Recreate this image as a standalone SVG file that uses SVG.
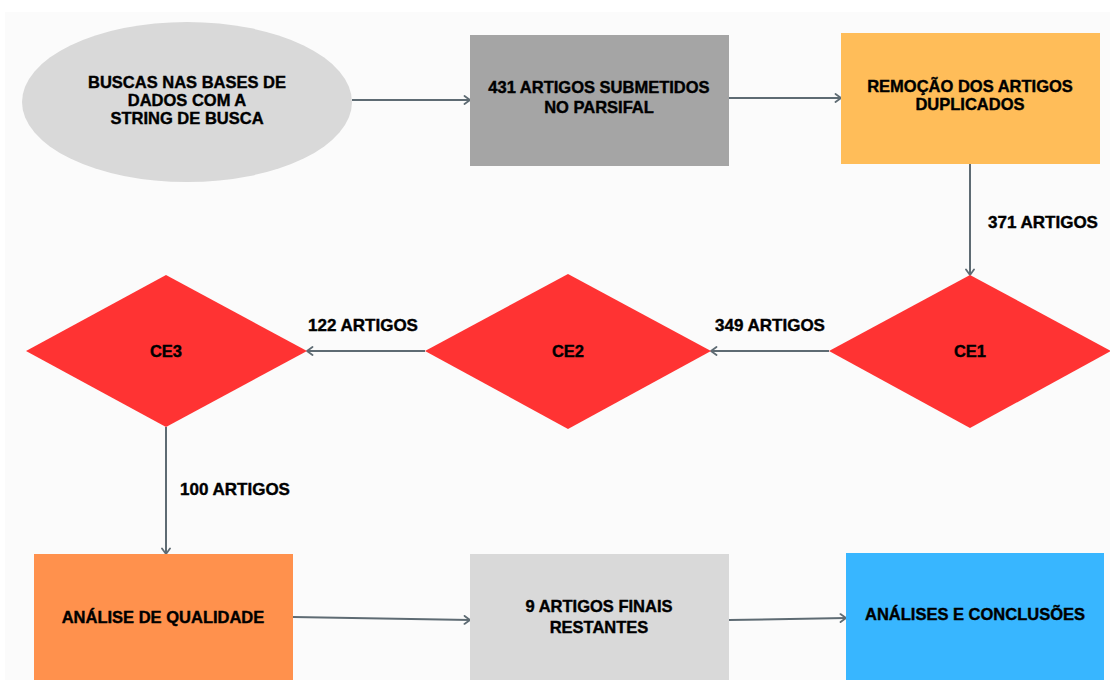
<svg xmlns="http://www.w3.org/2000/svg" width="1110" height="680" viewBox="0 0 1110 680">
<defs>
<marker id="arr" viewBox="0 0 10 10" refX="8.5" refY="5" markerWidth="10" markerHeight="10" markerUnits="userSpaceOnUse" orient="auto">
<path d="M3,1 L8.5,5 L3,9" fill="none" stroke="#5e6b73" stroke-width="1.8" stroke-linecap="round" stroke-linejoin="round"/>
</marker>
</defs>
<style>
.t{font-family:"Liberation Sans",Arial,sans-serif;font-weight:bold;font-size:16.5px;fill:#000;stroke:#000;stroke-width:0.4;text-anchor:middle}
.l{font-family:"Liberation Sans",Arial,sans-serif;font-weight:bold;font-size:17px;fill:#000;stroke:#000;stroke-width:0.4;text-anchor:middle}
.c{fill:none;stroke:#5e6b73;stroke-width:2;marker-end:url(#arr)}
.dia{fill:#ff3333}
</style>
<rect x="0" y="0" width="1110" height="680" fill="#ffffff"/>
<rect x="5" y="12" width="1105" height="668" fill="#fbfbfb"/>
<g id="connectors">
<line class="c" x1="352" y1="100" x2="470" y2="100"/>
<line class="c" x1="729" y1="98" x2="841" y2="98"/>
<line class="c" x1="970" y1="164" x2="970" y2="275"/>
<line class="c" x1="829" y1="351" x2="711" y2="351"/>
<line class="c" x1="425" y1="351" x2="307" y2="351"/>
<line class="c" x1="166" y1="427" x2="166" y2="554"/>
<line class="c" x1="293" y1="617" x2="470" y2="620"/>
<line class="c" x1="729" y1="620" x2="846" y2="618"/>
<text class="l" x="1043" y="228">371 ARTIGOS</text>
<text class="l" x="770" y="331">349 ARTIGOS</text>
<text class="l" x="363" y="331">122 ARTIGOS</text>
<text class="l" x="235" y="495">100 ARTIGOS</text>
</g>
<g id="n1">
<ellipse cx="187" cy="102" rx="165" ry="80" fill="#d9d9d9"/>
<text class="t" x="187" y="88">BUSCAS NAS BASES DE</text>
<text class="t" x="187" y="106">DADOS COM A</text>
<text class="t" x="187" y="124">STRING DE BUSCA</text>
</g>
<g id="n2">
<rect x="470" y="35" width="259" height="131" fill="#a5a5a5"/>
<text class="t" x="599" y="93">431 ARTIGOS SUBMETIDOS</text>
<text class="t" x="599" y="113">NO PARSIFAL</text>
</g>
<g id="n3">
<rect x="841" y="33" width="259" height="131" fill="#ffbd59"/>
<text class="t" x="970" y="92">REMOÇÃO DOS ARTIGOS</text>
<text class="t" x="970" y="110">DUPLICADOS</text>
</g>
<g id="ce1">
<polygon class="dia" points="970,275 1111,351 970,428 829,351"/>
<text class="t" x="970" y="357">CE1</text>
</g>
<g id="ce2">
<polygon class="dia" points="568,274 711,351 568,429 425,351"/>
<text class="t" x="568" y="357">CE2</text>
</g>
<g id="ce3">
<polygon class="dia" points="166,275 307,351 166,427 26,351"/>
<text class="t" x="166" y="357">CE3</text>
</g>
<g id="n4">
<rect x="34" y="554" width="259" height="130" fill="#ff914d"/>
<text class="t" x="163" y="623">ANÁLISE DE QUALIDADE</text>
</g>
<g id="n5">
<rect x="470" y="554" width="259" height="130" fill="#d9d9d9"/>
<text class="t" x="599" y="612">9 ARTIGOS FINAIS</text>
<text class="t" x="599" y="633">RESTANTES</text>
</g>
<g id="n6">
<rect x="846" y="553" width="258" height="131" fill="#38b6ff"/>
<text class="t" x="975" y="620">ANÁLISES E CONCLUSÕES</text>
</g>
</svg>
